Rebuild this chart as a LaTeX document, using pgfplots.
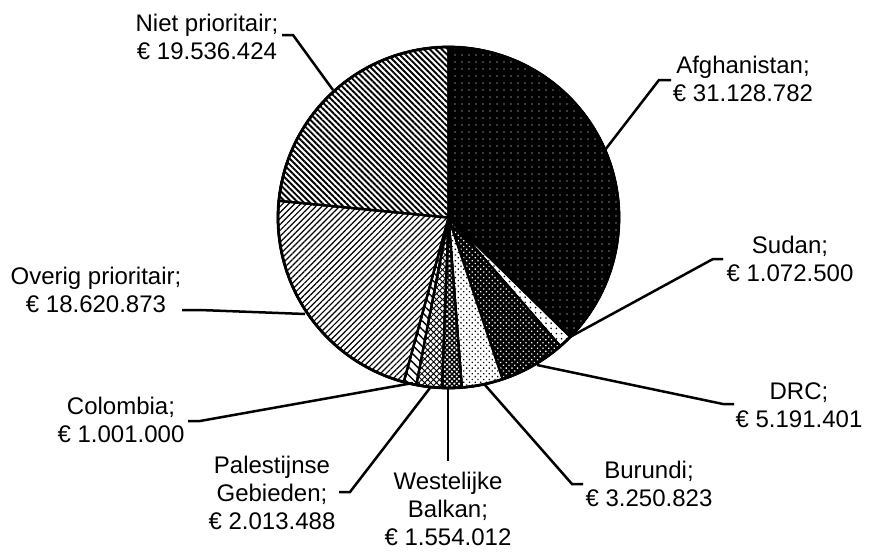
\documentclass[border=0pt]{standalone}
\usepackage{pgfplots}
\pgfplotsset{compat=1.18}
\usepackage{pgfplotstable}
\usetikzlibrary{patterns.meta}
\usepackage{fontspec}
\setmainfont{Liberation Sans}

% slice values (euro), clockwise from 12 o'clock
\pgfplotstableread[col sep=comma]{
name,value
Afghanistan,31128782
Sudan,1072500
DRC,5191401
Burundi,3250823
Westelijke Balkan,1554012
Palestijnse Gebieden,2013488
Colombia,1001000
Overig prioritair,18620873
Niet prioritair,19536424
}\piedata

\gdef\totalval{0}
\pgfplotsforeachungrouped \i in {0,...,8}{%
  \pgfplotstablegetelem{\i}{value}\of\piedata
  \xdef\totalval{\fpeval{\totalval+\pgfplotsretval}}}
\gdef\cumval{0}
\pgfplotsforeachungrouped \i in {0,...,8}{%
  \pgfplotstablegetelem{\i}{value}\of\piedata
  \expandafter\xdef\csname angS\i\endcsname{\fpeval{round(90-360*\cumval/\totalval,4)}}%
  \xdef\cumval{\fpeval{\cumval+\pgfplotsretval}}%
  \expandafter\xdef\csname angE\i\endcsname{\fpeval{round(90-360*\cumval/\totalval,4)}}}

\def\cx{448.5}
\def\cy{217.5}
\def\rr{170.5}

\newcommand\slice[2]{%
  \addplot[line width=1.1pt, draw=black, line join=round, #2,
    domain=\csname angE#1\endcsname:\csname angS#1\endcsname, samples=90]
    ({\cx+\rr*cos(x)},{\cy-\rr*sin(x)}) -- (axis cs:\cx,\cy) -- cycle;}

\begin{document}
\begin{tikzpicture}[every node/.style={font=\fontsize{12pt}{14pt}\selectfont}]
\begin{axis}[
  scale only axis, width=437.5pt, height=275pt,
  xmin=0, xmax=875, ymin=0, ymax=550, y dir=reverse,
  hide axis, clip=false]
\path (rel axis cs:0,0) rectangle (rel axis cs:1,1);
% Afghanistan
\slice{0}{fill=black, postaction={pattern={Dots[distance=3.5pt,radius=0.35pt]}, pattern color=white}}
% Sudan
\slice{1}{fill=white, postaction={pattern={Dots[distance=2.6pt,radius=0.45pt]}, pattern color=black}}
% DRC
\slice{2}{fill=black, postaction={pattern={Dots[distance=2pt,radius=0.45pt,angle=45]}, pattern color=white}}
% Burundi
\slice{3}{fill=white, postaction={pattern={Dots[distance=2pt,radius=0.45pt,angle=45]}, pattern color=black}}
% Westelijke Balkan
\slice{4}{fill=white, postaction={pattern={Hatch[distance=1.7pt,angle=45,line width=0.7pt]}, pattern color=black}}
% Palestijnse Gebieden
\slice{5}{fill=white, postaction={pattern={Hatch[distance=2.1pt,angle=45,line width=0.45pt]}, pattern color=black}}
% Colombia
\slice{6}{fill=white, postaction={pattern={Lines[distance=3pt,angle=-45,line width=0.7pt]}, pattern color=black}}
% Overig prioritair
\slice{7}{fill=white, postaction={pattern={Lines[distance=2.1pt,angle=45,line width=0.6pt]}, pattern color=black}}
% Niet prioritair
\slice{8}{fill=white, postaction={pattern={Lines[distance=2.1pt,angle=-45,line width=0.95pt]}, pattern color=black}}
% outline
\addplot[line width=1.4pt, draw=black, domain=0:360, samples=181] ({\cx+\rr*cos(x)},{\cy-\rr*sin(x)});

% leader lines
\begin{scope}[line width=1.25pt]
\draw (axis cs:282,35) -- (axis cs:293,35) -- (axis cs:333,90);
\draw (axis cs:605,150) -- (axis cs:659,80) -- (axis cs:671,80);
\draw (axis cs:570,337) -- (axis cs:713,259) -- (axis cs:723,259);
\draw (axis cs:537,365) -- (axis cs:723,404) -- (axis cs:734,404);
\draw (axis cs:485,385) -- (axis cs:572,484) -- (axis cs:583,484);
\draw (axis cs:448,388) -- (axis cs:448,461);
\draw (axis cs:430,388) -- (axis cs:350,492) -- (axis cs:339,492);
\draw (axis cs:413,383) -- (axis cs:200,421) -- (axis cs:188,421);
\draw (axis cs:305,314) -- (axis cs:200,310) -- (axis cs:182,310);
\end{scope}

% labels
\node[align=center] at (axis cs:207,36.5) {Niet prioritair;\\€ 19.536.424};
\node[align=center] at (axis cs:743,79) {Afghanistan;\\€ 31.128.782};
\node[align=center] at (axis cs:790,258.5) {Sudan;\\€ 1.072.500};
\node[align=center] at (axis cs:96,290) {Overig prioritair;\\€ 18.620.873};
\node[align=center] at (axis cs:121,420) {Colombia;\\€ 1.001.000};
\node[align=center] at (axis cs:272,493) {Palestijnse\\Gebieden;\\€ 2.013.488};
\node[align=center] at (axis cs:448,508.5) {Westelijke\\Balkan;\\€ 1.554.012};
\node[align=center] at (axis cs:649,483.5) {Burundi;\\€ 3.250.823};
\node[align=center] at (axis cs:799,405) {DRC;\\€ 5.191.401};
\end{axis}
\end{tikzpicture}
\end{document}
